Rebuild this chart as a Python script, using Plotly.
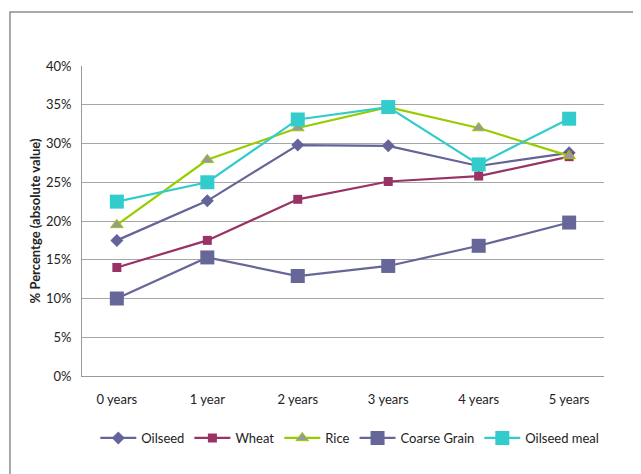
import plotly.graph_objects as go

categories = ["0 years", "1 year", "2 years", "3 years", "4 years", "5 years"]
oilseed = [17.5, 22.6, 29.8, 29.7, 27.1, 28.8]
wheat = [14.0, 17.5, 22.8, 25.1, 25.8, 28.3]
rice = [19.5, 27.9, 32.0, 34.7, 32.0, 28.4]
coarse_grain = [10.0, 15.3, 12.9, 14.2, 16.8, 19.8]
oilseed_meal = [22.5, 25.0, 33.1, 34.7, 27.3, 33.2]
y_ticks = [0, 5, 10, 15, 20, 25, 30, 35, 40]
y_tick_labels = [f"{v}%" for v in y_ticks]

FONT = "Lato, 'Open Sans', sans-serif"

fig = go.Figure()
fig.add_trace(go.Scatter(x=categories, y=oilseed, name="Oilseed", mode="lines+markers",
                         line=dict(color="#64649A", width=2.2),
                         marker=dict(symbol="diamond", size=10, color="#64649A")))
fig.add_trace(go.Scatter(x=categories, y=wheat, name="Wheat", mode="lines+markers",
                         line=dict(color="#993366", width=2.2),
                         marker=dict(symbol="square", size=9, color="#993366")))
fig.add_trace(go.Scatter(x=categories, y=rice, name="Rice", mode="lines+markers",
                         line=dict(color="#99CC00", width=2.2),
                         marker=dict(symbol="triangle-up", size=11, color="#999999",
                                     line=dict(color="#99CC00", width=1))))
fig.add_trace(go.Scatter(x=categories, y=coarse_grain, name="Coarse Grain", mode="lines+markers",
                         line=dict(color="#666699", width=2.2),
                         marker=dict(symbol="square", size=14, color="#666699")))
fig.add_trace(go.Scatter(x=categories, y=oilseed_meal, name="Oilseed meal", mode="lines+markers",
                         line=dict(color="#33CCCC", width=2.2),
                         marker=dict(symbol="square", size=14, color="#33CCCC")))

fig.update_layout(
    width=641, height=474,
    margin=dict(l=74, r=45, t=58, b=106, autoexpand=False),
    paper_bgcolor="white", plot_bgcolor="white",
    font=dict(family=FONT, size=13, color="#222222"),
    showlegend=True,
    legend=dict(orientation="h", x=0.513, xanchor="center", y=-0.2, yanchor="middle",
                font=dict(size=13, color="#222222"), itemwidth=36, tracegroupgap=0,
                bgcolor="rgba(0,0,0,0)"),
    xaxis=dict(type="category", showgrid=False, showline=True, linecolor="#999999",
               linewidth=1, ticks="", tickfont=dict(size=13), mirror=False,
               ticklabelstandoff=11),
    yaxis=dict(range=[0, 40], tickvals=y_ticks, ticktext=y_tick_labels,
               showgrid=True, gridcolor="#A6A6A6", gridwidth=1,
               showline=True, linecolor="#999999", linewidth=1, ticks="",
               ticklen=0, zeroline=False, tickfont=dict(size=13),
               ticklabelstandoff=7,
               title=dict(text="<b>% Percentge (absolute value)</b>", font=dict(size=13), standoff=2)),
    shapes=[dict(type="rect", xref="paper", yref="paper", x0=-0.138, y0=-0.5, x1=1.3, y1=1.174,
                 line=dict(color="#8C8C8C", width=1.5), fillcolor="rgba(0,0,0,0)", layer="below")],
)

fig.write_html("out.html")
